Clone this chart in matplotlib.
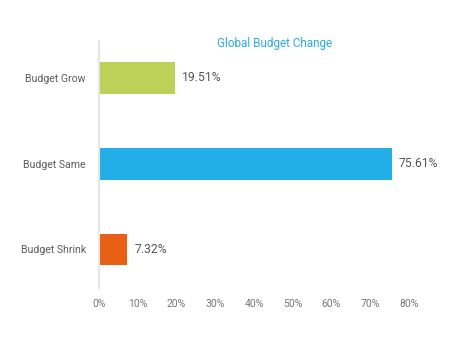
import matplotlib.pyplot as plt

categories = ["Budget Grow", "Budget Same", "Budget Shrink"]
values = [19.51, 75.61, 7.32]
colors = ["#bdd057", "#22aee6", "#e95f13"]
x_ticks = [0, 10, 20, 30, 40, 50, 60, 70, 80]

plt.rcParams['font.family'] = ['Roboto', 'DejaVu Sans']

fig = plt.figure(figsize=(4.64, 3.52), dpi=100)
ax = fig.add_axes([99 / 464, 1 - 288 / 352, 310 / 464, 247 / 352])

pos = list(range(len(categories)))
ax.barh(pos, values, height=0.37, color=colors)
for p, v in zip(pos, values):
    ax.text(v + 1.8, p, f"{v:.2f}%", va="center", ha="left", fontsize=8.7, color="#555555")

ax.set_xlim(0, 80)
ax.set_ylim(2.45, -0.43)
ax.set_yticks(pos)
ax.set_yticklabels(categories, fontsize=7.6, color="#5c5c5c")
ax.set_xticks(x_ticks)
ax.set_xticklabels([f"{t}%" for t in x_ticks], fontsize=7.5, color="#777777")
ax.tick_params(length=0)
ax.tick_params(axis="y", pad=9.5)
ax.tick_params(axis="x", pad=8)
for s in ["top", "right", "bottom"]:
    ax.spines[s].set_visible(False)
ax.spines["left"].set_color("#e6e6e6")
ax.spines["left"].set_linewidth(1.5)

fig.text(275 / 464, 1 - 44 / 352, "Global Budget Change", ha="center", va="center",
         fontsize=8.5, color="#29abe2")

fig.savefig("out.png", dpi=100)
